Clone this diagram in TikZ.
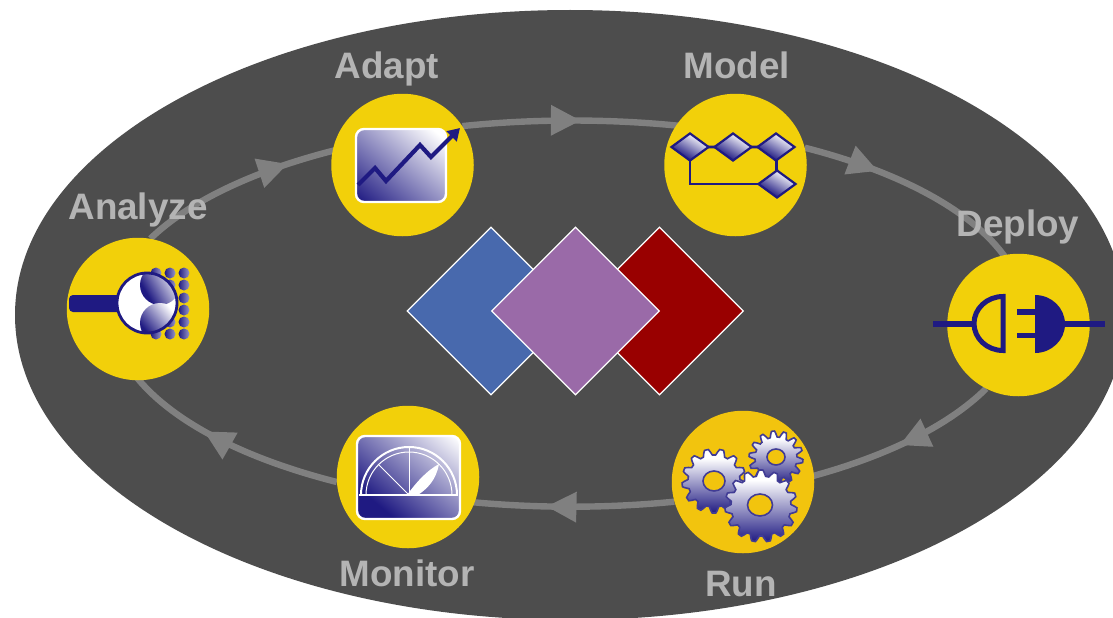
\documentclass[tikz,border=0pt]{standalone}
\usepackage{fontspec}
\setmainfont{Liberation Sans}
\usetikzlibrary{shapes.geometric,arrows.meta,decorations.markings,backgrounds}
\definecolor{bgdark}{HTML}{4D4D4D}
\definecolor{ringgray}{HTML}{808080}
\definecolor{labelgray}{HTML}{B4B4B4}
\definecolor{sun}{HTML}{F2D00A}
\definecolor{sunrun}{HTML}{F2C40E}
\definecolor{navy}{HTML}{1F1A82}
\definecolor{dblue}{HTML}{4869AD}
\definecolor{dred}{HTML}{990000}
\definecolor{dpurple}{HTML}{9A6AA8}
\pgfdeclareverticalshading{iconshade}{100bp}{color(0bp)=(navy);color(16bp)=(navy);color(80bp)=(white);color(100bp)=(white)}
\pgfdeclareverticalshading{monshade}{100bp}{color(0bp)=(navy);color(28bp)=(navy);color(84bp)=(white);color(100bp)=(white)}
\pgfdeclareverticalshading{lobeshade}{100bp}{color(0bp)=(navy);color(30bp)=(navy);color(72bp)=(white);color(100bp)=(white)}
\pgfdeclareverticalshading{gearshade}{100bp}{color(0bp)=(navy);color(25bp)=(navy);color(68bp)=(white);color(100bp)=(white)}
\tikzset{
  x=1pt,y=-1pt,
  stage/.style={circle,fill=sun,draw=none,minimum size=142.5pt,inner sep=0pt},
  ringline/.style={draw=ringgray,line width=6.4pt,postaction={decorate}},
  tip at/.style={decoration={markings,mark=at position #1 with {\arrow{Triangle[length=30pt,width=29pt]}}}},
  steplabel/.style={text=labelgray,font=\fontsize{36.8}{36.8}\selectfont\bfseries,inner sep=0pt,anchor=base},
  bigdia/.style={diamond,draw=white,line width=1.3pt,minimum width=168pt,minimum height=168pt,inner sep=0pt,aspect=1},
  screen/.style={rounded corners=8pt,draw=white,line width=2.4pt,shading=iconshade,shading angle=-40},
  minidia/.style={diamond,draw=navy,line width=2.2pt,minimum width=38pt,minimum height=28pt,inner sep=0pt,aspect=1.35,shading=lobeshade,shading angle=-30},
  navyline/.style={draw=navy,line width=2.8pt},
  gearbody/.style={draw=navy!85!white,line width=1.6pt,shading=gearshade},
  gearhole/.style={draw=navy!85!white,line width=1.6pt,fill=sunrun},
  ball/.style={left color=navy,right color=navy!45!white},
}
\newcommand{\gearshape}[4]{%
  \path[gearbody] plot[domain=0:360,samples=#4*8+1,smooth,tension=.35]
   ({#1+(#3-3+3*max(min(1.7*sin(#4*\x),1),-1))*cos(\x)},{#2+(#3-3+3*max(min(1.7*sin(#4*\x),1),-1))*sin(\x)}) -- cycle;}
\begin{document}
\begin{tikzpicture}
\useasboundingbox (0,0) rectangle (1113,618);
\clip (0,0) rectangle (1113,618);

% stages
\node[stage] (analyze) at (138,309) {};
\node[stage] (adapt) at (402.5,165) {};
\node[stage] (model) at (735.5,165) {};
\node[stage] (deploy) at (1018.5,325) {};
\node[stage,fill=sunrun] (run) at (743,482) {};
\node[stage] (monitor) at (408,477) {};

\begin{scope}[on background layer]
  \fill[bgdark] (570,315) ellipse[x radius=555pt,y radius=305pt];
  \path[ringline,tip at=.69] (analyze.80) arc[start angle=156.5,end angle=118,x radius=460pt,y radius=193pt];
  \path[ringline,tip at=.47] (adapt.33) arc[start angle=103.8,end angle=72,x radius=460pt,y radius=193pt];
  \path[ringline,tip at=.32] (model.14) arc[start angle=59.1,end angle=15,x radius=452pt,y radius=193pt];
  \path[ringline,tip at=.46] (deploy.243) arc[start angle=-23.6,end angle=-62,x radius=452pt,y radius=196pt];
  \path[ringline,tip at=.555] (run.196) arc[start angle=-77,end angle=-106,x radius=460pt,y radius=196pt];
  \path[ringline,tip at=.60] (monitor.184) arc[start angle=-120.7,end angle=-163,x radius=460pt,y radius=196pt];
\end{scope}

% central diamonds
\node[bigdia,fill=dblue] (dia1) at (491,311) {};
\node[bigdia,fill=dred] (dia3) at (659.5,311) {};
\node[bigdia,fill=dpurple] (dia2) at (575.5,311) {};

% labels
\node[steplabel] (ladapt) at (387,78) {Adapt};
\node[steplabel] (lmodel) at (737,78) {Model};
\node[steplabel] (lanalyze) at (138,219.5) {Analyze};
\node[steplabel] (ldeploy) at (1018,236) {Deploy};
\node[steplabel] (lrun) at (741,596) {Run};
\node[steplabel] (lmonitor) at (407,586) {Monitor};

% Adapt icon
\path[screen] (356,129) rectangle (446,202);
\draw[navy,line width=4.2pt,line join=miter,-{Triangle[length=12pt,width=14pt]}]
  (358,185) -- (375,168) -- (386,181) -- (420,145) -- (431,157) -- (460,128);

% Model icon
\draw[navyline] (690,147) -- (690,184) -- (777,184);
\draw[navyline] (690,147) -- (776,147) -- (777,184);
\node[minidia] (m1) at (690,147) {};
\node[minidia] (m2) at (733,147) {};
\node[minidia] (m3) at (776,147) {};
\node[minidia] (m4) at (777,184) {};

% Deploy icon
\draw[navy,line width=6pt] (933,324) -- (975,324);
\draw[navy,line width=6pt] (1063,324) -- (1105,324);
\draw[navy,line width=5pt] (1003,296.5) arc[start angle=90,end angle=270,x radius=29pt,y radius=27pt] -- cycle;
\fill[navy] (1035,295) arc[start angle=90,end angle=-90,x radius=30pt,y radius=29pt] -- cycle;
\draw[navy,line width=5.5pt] (1017,312) -- (1036,312);
\draw[navy,line width=5.5pt] (1017,335.5) -- (1036,335.5);

% Run icon
\gearshape{714}{481}{32}{13}
\draw[gearhole] (714,481) ellipse[x radius=11pt,y radius=10pt];
\gearshape{776}{458}{27}{14}
\draw[gearhole] (776,457) ellipse[x radius=9pt,y radius=8pt];
\gearshape{761}{506}{36}{15}
\draw[gearhole] (760,505) ellipse[x radius=12.5pt,y radius=11pt];

% Monitor icon
\path[screen,shading=monshade] (357,436) rectangle (460,519);
\draw[white,line width=2pt] (359,495) -- (458,495);
\draw[white,line width=2pt] (361,495) arc[start angle=180,end angle=0,radius=48pt];
\draw[white,line width=1pt] (366,495) arc[start angle=180,end angle=0,radius=43pt];
\draw[white,line width=1pt] (409,495) -- (378,464);
\draw[white,line width=1pt] (409,495) -- (409,447);
\fill[white] (407,495) .. controls (418,480) and (428,470) .. (439,464) .. controls (436,480) and (428,488) .. (418,495) -- cycle;

% Analyze icon
\fill[navy,rounded corners=4pt] (69,295) rectangle (124,312);
\foreach \cx in {156,170,184}{\foreach \cy in {273,285,298,310,322,334}{
  \path[ball] (\cx,\cy) circle[radius=5.5pt];}}
\fill[white] (147,303) circle[radius=30pt];
\begin{scope}
  \clip (147,303) circle[radius=30pt];
  \path[shading=lobeshade,shading angle=-60] (160,285) circle[radius=20pt];
  \path[shading=lobeshade,shading angle=-50] (160,323) circle[radius=20pt];
\end{scope}
\draw[navy,line width=2.8pt] (147,303) circle[radius=30pt];
\end{tikzpicture}
\end{document}
